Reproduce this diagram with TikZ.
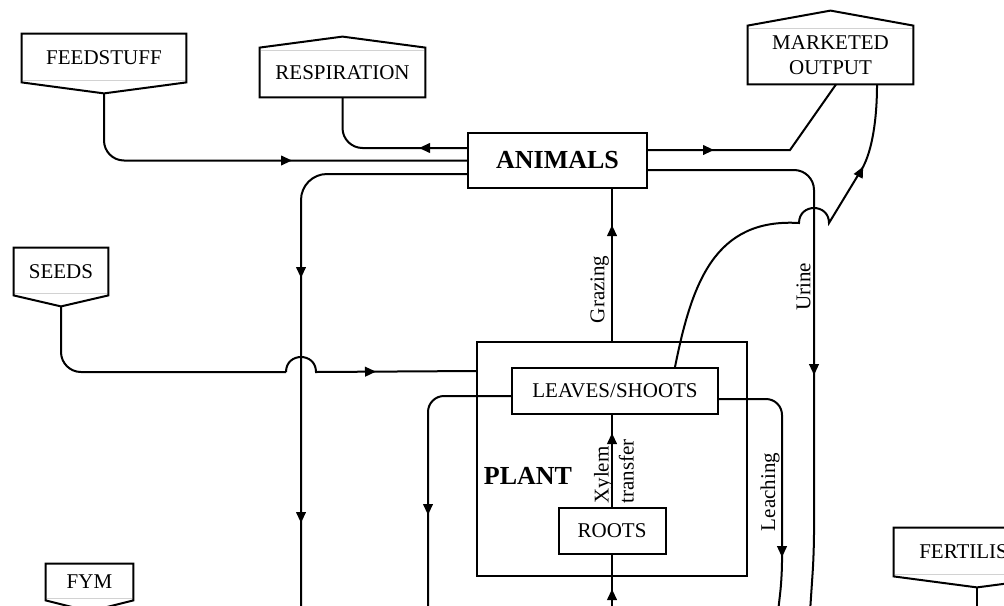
\documentclass[tikz,border=0pt]{standalone}
\usepackage{fontspec}
\setmainfont{Liberation Serif}
\usetikzlibrary{arrows.meta,calc,decorations.markings}

\begin{document}
\begin{tikzpicture}[
  x=0.5pt, y=-0.5pt,
  every node/.style={inner sep=0pt, align=center, font=\fontsize{10.5}{12.5}\selectfont},
  box/.style={draw, line width=1pt},
  tag/.style={minimum width=#1},
  bold/.style={font=\fontsize{13}{15}\selectfont\bfseries},
  lbl/.style={inner sep=1pt},
  flow/.style={line width=1pt},
  arrowat/.style={postaction={decorate, decoration={markings,
      mark=at position #1 with {\arrow{Triangle[length=5.5pt,width=4.8pt]}}}}}
]
\useasboundingbox (0,0) rectangle (1004,605);
\clip (0,0) rectangle (1004,605);

\node[box, bold, minimum width=89.5pt, minimum height=27.5pt] (animals) at (557.5,160.5) {ANIMALS};
\node[box, minimum width=135pt, minimum height=117pt] (plant) at (612,459) {};
\node[box, minimum width=103pt, minimum height=23pt] (leaves) at (615,391) {LEAVES/SHOOTS};
\node[box, minimum width=53.5pt, minimum height=23pt] (roots) at (612,531) {ROOTS};
\node[bold] (plant-lbl) at (528,476) {PLANT};

\node[tag=82pt, minimum height=24pt] (feed) at (104,58) {FEEDSTUFF};
\node[tag=47pt, minimum height=23.5pt] (seeds) at (61,271.5) {SEEDS};
\node[tag=43.5pt, minimum height=18pt] (fym) at (89.5,582) {FYM};
\node[tag=83pt, minimum height=24pt] (fert) at (977,552) {FERTILISER};
\node[tag=82.5pt, minimum height=24.5pt] (resp) at (342.5,72.5) {RESPIRATION};
\node[tag=82.5pt, minimum height=29pt] (market) at (830.5,55) {MARKETED\\OUTPUT};

\foreach \n in {feed,seeds,fym,fert}{
  \draw[flow] (\n.north west) -- (\n.north east) -- (\n.south east)
    -- ($(\n.south)+(0,11)$) coordinate (\n-tip) -- (\n.south west) -- cycle;
  \draw[gray!35] ($(\n.south west)+(1,-2)$) -- ($(\n.south east)+(-1,-2)$);
}
\foreach \n/\d in {resp/11,market/15}{
  \draw[flow] (\n.south west) -- (\n.north west) -- ($(\n.north)+(0,-\d)$)
    -- (\n.north east) -- (\n.south east) -- cycle;
  \draw[gray!35] ($(\n.north west)+(1,3)$) -- ($(\n.north east)+(-1,3)$);
}

\coordinate (fym-in) at (301,612);
\coordinate (lv-out) at (428,612);
\coordinate (leach-out) at (778,612);
\coordinate (urine-out) at (810,612);
\coordinate (soil-in) at (612,612);
\coordinate (fert-out) at (977,612);

\draw[flow, rounded corners=10pt, arrowat=-87.5pt] (feed-tip) |- (animals.west);
\draw[flow, rounded corners=10pt, arrowat=24pt] ($(animals.west)+(0,-12.5)$) -| (resp.south);
\draw[flow, rounded corners=13pt, arrowat=-167pt, arrowat=-44.5pt] ($(animals.west)+(0,13.5)$) -| (fym-in);
\draw[flow, rounded corners=10pt] (seeds-tip) |- (286,372);
\draw[flow, arrowat=-50pt] (286,372) .. controls (286,352) and (316,352) .. (316,372)
  -- ($(plant.north west)+(0,30)$);

\draw[flow, arrowat=-18pt] (plant.north) -- (plant.north |- animals.south)
  node[lbl, pos=0.34, rotate=90, anchor=south] (graz) {Grazing};
\draw[flow, arrowat=-9pt] (roots.north) -- (roots.north |- leaves.south);
\node[lbl, rotate=90, align=left, anchor=west] (xylem) at ($(roots.north)+(2,-1)$) {Xylem\\transfer};
\draw[flow, arrowat=-17pt] (soil-in) -- (roots.south);

\draw[flow, rounded corners=8pt, arrowat=-48.5pt] ($(leaves.west)+(0,5)$) -| (lv-out);
\draw[flow, rounded corners=8pt, arrowat=-27.5pt] ($(leaves.east)+(0,8)$) -| (782,577) -- (leach-out);
\node[lbl, rotate=90, anchor=south] (leach) at (782,492) {Leaching};

\draw[flow, arrowat=33pt] ($(animals.east)+(0,-10.5)$) -- (790,150) -- ($(market.south)+(5.5,0)$);
\draw[flow, rounded corners=10pt, arrowat=-118.5pt] ($(animals.east)+(0,9.5)$) -| (814,552) -- (urine-out);
\node[lbl, rotate=90, anchor=south] (urine) at (813,287) {Urine};

\draw[flow, arrowat=-42pt] ($(leaves.north)+(60,0)$) .. controls (692,282) and (715,218) .. (799,223)
  .. controls (799,203) and (829,203) .. (829,223) -- (863,167)
  .. controls (872,150) and (877,120) .. ($(market.south)+(46.5,0)$);

\draw[flow] (fert-tip) -- (fert-out);
\end{tikzpicture}
\end{document}
